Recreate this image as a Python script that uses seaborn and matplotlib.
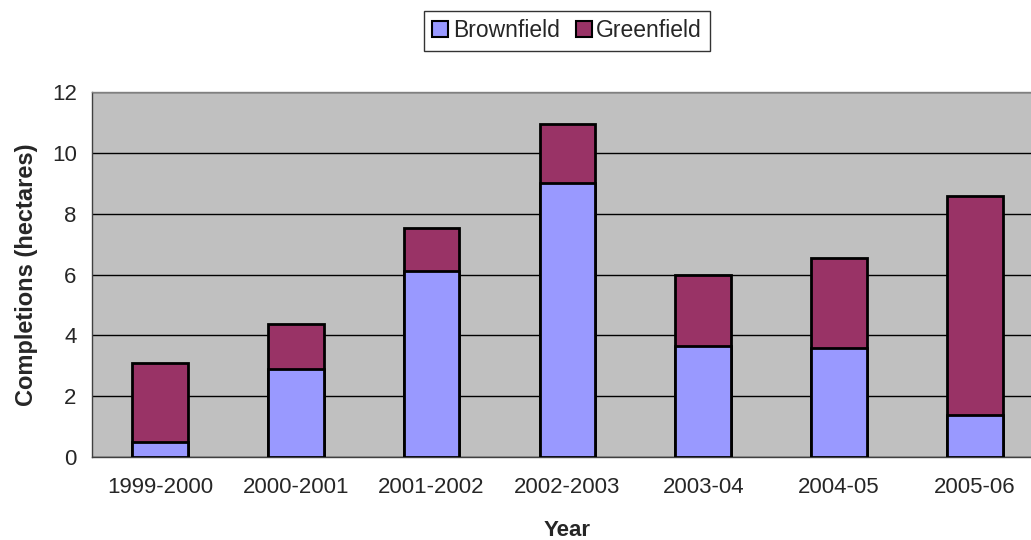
import matplotlib
matplotlib.use("Agg")
import matplotlib.pyplot as plt
import seaborn as sns
import pandas as pd
from matplotlib.patches import Patch

years = ['1999-2000', '2000-2001', '2001-2002', '2002-2003', '2003-04', '2004-05', '2005-06']
brownfield = [0.49, 2.89, 6.12, 9.01, 3.65, 3.58, 1.40]
greenfield = [2.61, 1.49, 1.41, 1.92, 2.34, 2.95, 7.18]

df = pd.DataFrame({'Year': years, 'Brownfield': brownfield, 'Greenfield': greenfield})
df['Total'] = df['Brownfield'] + df['Greenfield']

sns.set_style('white')
plt.rcParams['font.family'] = ['Liberation Sans', 'DejaVu Sans']

c_brown = '#9999FF'
c_green = '#993366'

fig = plt.figure(figsize=(10.31, 5.4), dpi=100)
ax = fig.add_axes([0.0892, 0.1531, 0.9224, 0.677])
ax.set_facecolor('#C0C0C0')

# stacked: total first, brownfield on top of it
sns.barplot(data=df, x='Year', y='Total', color=c_green, width=0.41,
            edgecolor='black', linewidth=2, saturation=1, ax=ax, zorder=3)
sns.barplot(data=df, x='Year', y='Brownfield', color=c_brown, width=0.41,
            edgecolor='black', linewidth=2, saturation=1, ax=ax, zorder=3)

ax.set_ylim(0, 12)
ax.set_xlim(-0.5, 6.5)
ax.set_yticks(range(0, 13, 2))
ax.yaxis.grid(True, color='black', linewidth=1, zorder=0)
ax.set_axisbelow(True)

# category tick marks sit between the bars
ax.set_xticks([i - 0.5 for i in range(len(years) + 1)], minor=True)
ax.tick_params(axis='x', which='major', length=0, pad=14, labelsize=16)
ax.tick_params(axis='x', which='minor', length=7, width=1, color='#404040', direction='out')
ax.tick_params(axis='y', length=7, width=1, color='#404040', direction='out', labelsize=16, pad=4)

for s in ax.spines.values():
    s.set_color('#808080')
    s.set_linewidth(1)
ax.spines['left'].set_color('#404040')
ax.spines['bottom'].set_color('#404040')

ax.set_xlabel('Year', fontsize=16, fontweight='bold', labelpad=16)
ax.set_ylabel('Completions (hectares)', fontsize=17, fontweight='bold', labelpad=10)

handles = [Patch(facecolor=c_brown, edgecolor='black', linewidth=1.5, label='Brownfield'),
           Patch(facecolor=c_green, edgecolor='black', linewidth=1.5, label='Greenfield')]
fig.legend(handles=handles, loc='center', bbox_to_anchor=(567 / 1031, 1 - 31 / 540), ncol=2,
           fontsize=16.5, frameon=True, fancybox=False, edgecolor='black',
           handlelength=0.7, handleheight=0.7, handletextpad=0.2, columnspacing=0.7,
           borderpad=0.35)

fig.savefig('out.png', dpi=100)
